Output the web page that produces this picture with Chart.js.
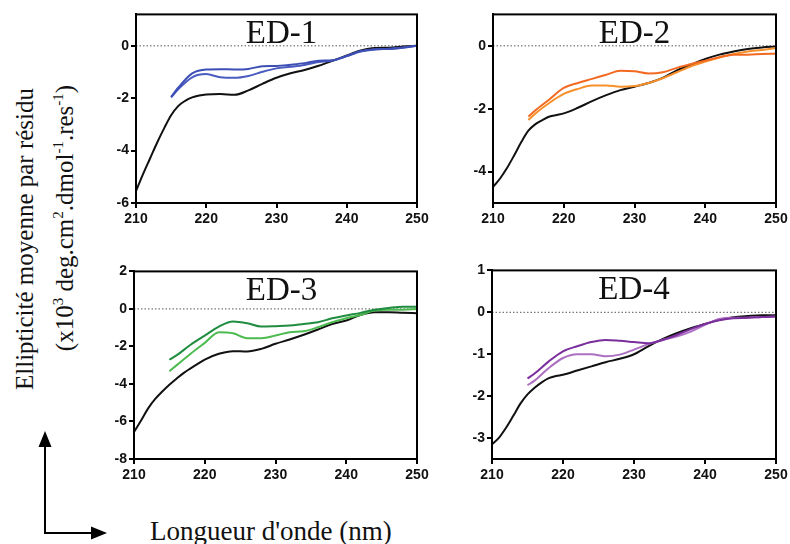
<!DOCTYPE html>
<html><head><meta charset="utf-8">
<script src="https://cdn.jsdelivr.net/npm/chart.js@4"></script>
<style>
html,body{margin:0;padding:0;background:#fff;}
body{width:790px;height:544px;position:relative;overflow:hidden;font-family:"Liberation Serif","Times New Roman",serif;color:#111;}
canvas{position:absolute;}
.rot{position:absolute;white-space:nowrap;font-size:25px;line-height:1;transform:translate(-50%,-50%) rotate(-90deg);}
.rot sup{font-size:15px;vertical-align:10px;line-height:0;}
#xlab{position:absolute;left:150px;top:518px;font-size:27px;line-height:1;white-space:nowrap;}
svg{position:absolute;left:0;top:0;}
</style></head><body>
<canvas id="c1"></canvas>
<canvas id="c2"></canvas>
<canvas id="c3"></canvas>
<canvas id="c4"></canvas>
<div class="rot" style="left:24px;top:239px;">Ellipticité moyenne par résidu</div>
<div class="rot" style="left:64px;top:218px;">(x10<sup>3</sup> deg.cm<sup>2</sup>.dmol<sup>-1</sup>.res<sup>-1</sup>)</div>
<div id="xlab">Longueur d'onde (nm)</div>
<svg width="790" height="544">
  <line x1="45" y1="445" x2="45" y2="534" stroke="#000" stroke-width="2"/>
  <polygon points="45,431 38.5,447 51.5,447" fill="#000"/>
  <line x1="44" y1="533" x2="92" y2="533" stroke="#000" stroke-width="2"/>
  <polygon points="107,533 91,526.5 91,539.5" fill="#000"/>
</svg>
<script>
// ---- data ----
const refX = [210,211,212,213,214,215,216,217,218,219,220,222,224,226,228,230,232,234,236,238,240,242,244,246,248,250];
const sampleX = [215,216,218,220,222,224,226,228,230,232,234,236,238,240,242,244,246,248,250];
const xTicks = [210,220,230,240,250];

const ed1Ref = [-5.55,-4.9,-4.3,-3.7,-3.15,-2.65,-2.3,-2.1,-1.97,-1.9,-1.86,-1.84,-1.87,-1.7,-1.45,-1.22,-1.05,-0.92,-0.76,-0.57,-0.37,-0.18,-0.08,-0.07,-0.03,0];
const ed1A = [-1.95,-1.6,-1.05,-0.9,-0.89,-0.9,-0.88,-0.78,-0.77,-0.72,-0.66,-0.57,-0.55,-0.39,-0.2,-0.13,-0.12,-0.07,0];
const ed1B = [-1.97,-1.66,-1.2,-1.08,-1.2,-1.22,-1.15,-0.99,-0.86,-0.8,-0.73,-0.62,-0.56,-0.39,-0.22,-0.14,-0.11,-0.06,0];

const ed2Ref = [-4.49,-4.22,-3.88,-3.48,-3.06,-2.7,-2.49,-2.36,-2.25,-2.2,-2.15,-1.97,-1.76,-1.57,-1.41,-1.3,-1.18,-1.02,-0.78,-0.6,-0.42,-0.28,-0.18,-0.1,-0.05,-0.02];
const ed2A = [-2.25,-2.05,-1.7,-1.34,-1.18,-1.05,-0.92,-0.79,-0.81,-0.88,-0.84,-0.7,-0.58,-0.47,-0.36,-0.28,-0.28,-0.26,-0.25];
const ed2B = [-2.36,-2.15,-1.81,-1.53,-1.37,-1.26,-1.26,-1.3,-1.28,-1.18,-1.03,-0.84,-0.65,-0.5,-0.37,-0.26,-0.18,-0.13,-0.07];

const ed3Ref = [-6.56,-5.95,-5.3,-4.8,-4.4,-4.04,-3.72,-3.42,-3.17,-2.93,-2.7,-2.39,-2.25,-2.27,-2.13,-1.86,-1.63,-1.38,-1.1,-0.8,-0.62,-0.32,-0.18,-0.18,-0.21,-0.23];
const ed3A = [-2.71,-2.48,-1.91,-1.42,-0.94,-0.67,-0.76,-0.94,-0.92,-0.89,-0.8,-0.71,-0.5,-0.35,-0.21,-0.05,0.05,0.12,0.12];
const ed3B = [-3.32,-3.01,-2.39,-1.81,-1.24,-1.3,-1.56,-1.56,-1.42,-1.24,-1.19,-0.98,-0.71,-0.5,-0.32,-0.09,-0.04,-0.04,0];

const ed4Ref = [-3.15,-2.99,-2.75,-2.47,-2.18,-1.96,-1.8,-1.67,-1.57,-1.52,-1.49,-1.39,-1.29,-1.19,-1.11,-1.0,-0.81,-0.64,-0.5,-0.38,-0.28,-0.18,-0.12,-0.09,-0.07,-0.07];
const ed4A = [-1.58,-1.46,-1.17,-0.93,-0.81,-0.71,-0.66,-0.68,-0.71,-0.74,-0.66,-0.54,-0.4,-0.28,-0.19,-0.14,-0.13,-0.11,-0.1];
const ed4B = [-1.74,-1.63,-1.33,-1.09,-1.0,-1.0,-1.05,-1.01,-0.89,-0.76,-0.66,-0.58,-0.46,-0.3,-0.16,-0.13,-0.13,-0.11,-0.1];

const titles = ['ED-1','ED-2','ED-3','ED-4'];
const yTicks1 = [-6,-4,-2,0];
const yTicks2 = [-4,-2,0];
const yTicks3 = [-8,-6,-4,-2,0,2];
const yTicks4 = [-3,-2,-1,0,1];

// ---- drawing ----
const pts = (xs, ys) => xs.map((x,i)=>({x, y: ys[i]}));

const framePlugin = {
  id: 'frame',
  beforeDatasetsDraw(chart) {
    const {ctx, chartArea:a, scales:{y}} = chart;
    const y0 = y.getPixelForValue(0);
    ctx.save();
    ctx.strokeStyle = '#555'; ctx.lineWidth = 1; ctx.setLineDash([1.5,2]);
    ctx.beginPath(); ctx.moveTo(a.left, y0); ctx.lineTo(a.right, y0); ctx.stroke();
    ctx.restore();
  },
  afterDraw(chart, args, opts) {
    const {ctx, chartArea:a} = chart;
    ctx.save();
    ctx.strokeStyle = '#000'; ctx.lineWidth = 2;
    ctx.strokeRect(a.left, a.top, a.right - a.left, a.bottom - a.top);
    ctx.fillStyle = '#111';
    ctx.font = '33px "Liberation Serif", "Times New Roman", serif';
    ctx.textAlign = 'center'; ctx.textBaseline = 'alphabetic';
    ctx.fillText(opts.text, (a.left + a.right)/2 + opts.dx, a.top + 29);
    ctx.restore();
  }
};

function makePanel(id, box, ymin, ymax, yt, title, dx, ref, a, b, colA, colB) {
  const padTop = 10, padRight = 20, yW = 40, xH = 30;
  const cv = document.getElementById(id);
  const w = (box.R - box.L) + yW + padRight;
  const h = (box.B - box.T) + padTop + xH;
  cv.width = w; cv.height = h;
  cv.style.left = (box.L - yW) + 'px';
  cv.style.top = (box.T - padTop) + 'px';
  cv.style.width = w + 'px'; cv.style.height = h + 'px';
  const tickFont = {family: '"Liberation Sans", Arial, sans-serif', size: 14, weight: 700};
  new Chart(cv, {
    type: 'line',
    data: {
      datasets: [
        {data: pts(sampleX, a), borderColor: colA, borderWidth: 2, pointRadius: 0, cubicInterpolationMode: 'monotone', order: 1},
        {data: pts(sampleX, b), borderColor: colB, borderWidth: 2, pointRadius: 0, cubicInterpolationMode: 'monotone', order: 2},
        {data: pts(refX, ref), borderColor: '#111', borderWidth: 2, pointRadius: 0, cubicInterpolationMode: 'monotone', order: 3}
      ]
    },
    options: {
      responsive: false, animation: false, devicePixelRatio: 1,
      layout: {padding: {top: padTop, right: padRight, left: 0, bottom: 0}},
      plugins: {legend: {display: false}, tooltip: {enabled: false}, frame: {text: title, dx: dx}},
      scales: {
        x: {
          type: 'linear', min: 210, max: 250,
          afterBuildTicks: s => { s.ticks = xTicks.map(v => ({value: v})); },
          afterFit: s => { s.height = xH; },
          ticks: {font: tickFont, color: '#111', padding: 3, maxRotation: 0, autoSkip: false},
          grid: {display: true, drawOnChartArea: false, drawTicks: true, tickLength: 5, color: '#000', lineWidth: 2},
          border: {display: true, color: '#000', width: 2}
        },
        y: {
          type: 'linear', min: ymin, max: ymax,
          afterBuildTicks: s => { s.ticks = yt.map(v => ({value: v})); },
          afterFit: s => { s.width = yW; },
          ticks: {font: tickFont, color: '#111', padding: 2, autoSkip: false},
          grid: {display: true, drawOnChartArea: false, drawTicks: true, tickLength: 5, color: '#000', lineWidth: 2},
          border: {display: true, color: '#000', width: 2}
        }
      }
    },
    plugins: [framePlugin]
  });
}

makePanel('c1', {L:136, R:417, T:14, B:203}, -6, 1.2, yTicks1, titles[0], 5, ed1Ref, ed1A, ed1B, '#3d4fb5', '#4a5cc0');
makePanel('c2', {L:493, R:776, T:14, B:203}, -5, 1, yTicks2, titles[1], 0, ed2Ref, ed2A, ed2B, '#f26a21', '#f7902a');
makePanel('c3', {L:134, R:417, T:271, B:459}, -8, 2, yTicks3, titles[2], 6, ed3Ref, ed3A, ed3B, '#1f8c3f', '#4cbb4f');
makePanel('c4', {L:492, R:776, T:270, B:459}, -3.5, 1, yTicks4, titles[3], 0, ed4Ref, ed4A, ed4B, '#7a2f9c', '#ad6fc2');
</script>
</body></html>
